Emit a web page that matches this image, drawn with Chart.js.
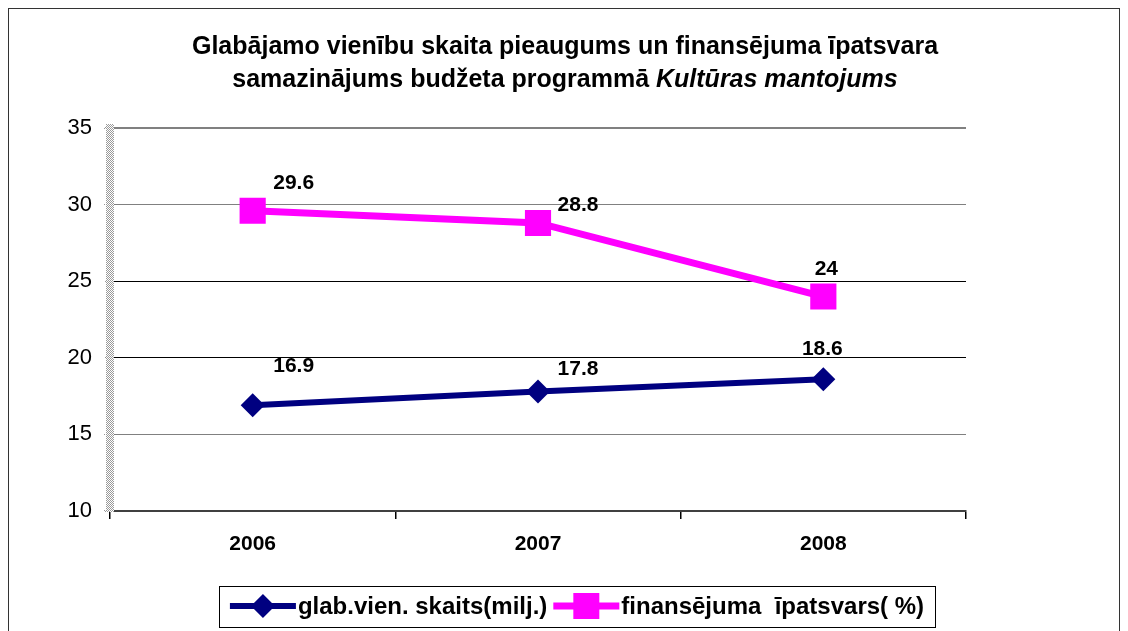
<!DOCTYPE html>
<html>
<head>
<meta charset="utf-8">
<script src="https://cdn.jsdelivr.net/npm/chart.js@4"></script>
<style>
  body { margin: 0; background: #fff; }
  canvas { display: block; }
</style>
</head>
<body>
<canvas id="chart" width="1128" height="631"></canvas>
<script>
const years = ["2006", "2007", "2008"];
const unitsCount = [16.9, 17.8, 18.6];
const fundingShare = [29.6, 28.8, 24];
const seriesNames = ["glab.vien. skaits(milj.)", "finansējuma  īpatsvars( %)"];
const titleLine1 = "Glabājamo vienību skaita pieaugums un finansējuma īpatsvara";
const titleLine2 = "samazinājums budžeta programmā ";
const titleItalic = "Kultūras mantojums";

const FONT = '"Liberation Sans", Arial, sans-serif';
const NAVY = "#000080";
const MAGENTA = "#ff00ff";

// dithered grey pattern for the left axis band
function makeHatch() {
  const c = document.createElement("canvas");
  c.width = 2; c.height = 2;
  const g = c.getContext("2d");
  g.fillStyle = "#fff"; g.fillRect(0, 0, 2, 2);
  g.fillStyle = "#999"; g.fillRect(0, 0, 1, 1); g.fillRect(1, 1, 1, 1);
  return g.createPattern(c, "repeat");
}
const hatch = makeHatch();

const framePlugin = {
  id: "frame",
  beforeDraw(chart) {
    const ctx = chart.ctx;
    ctx.save();
    ctx.strokeStyle = "#333";
    ctx.lineWidth = 1;
    ctx.strokeRect(8.5, 8.5, 1111, 700);

    ctx.fillStyle = "#000";
    ctx.textBaseline = "middle";
    ctx.textAlign = "center";
    ctx.font = "bold 25px " + FONT;
    ctx.fillText(titleLine1, 565, 47);

    const boldFont = "bold 25px " + FONT;
    const italicFont = "italic bold 25px " + FONT;
    ctx.font = boldFont;
    const w1 = ctx.measureText(titleLine2).width;
    ctx.font = italicFont;
    const w2 = ctx.measureText(titleItalic).width;
    let x = 565 - (w1 + w2) / 2;
    ctx.textAlign = "left";
    ctx.font = boldFont;
    ctx.fillText(titleLine2, x, 80);
    ctx.font = italicFont;
    ctx.fillText(titleItalic, x + w1, 80);
    ctx.restore();
  }
};

const pointLabels = {
  id: "pointLabels",
  afterDatasetsDraw(chart, args, opts) {
    const ctx = chart.ctx;
    ctx.save();
    ctx.font = "bold 21px " + FONT;
    ctx.fillStyle = "#000";
    ctx.textAlign = "center";
    ctx.textBaseline = "middle";
    chart.data.datasets.forEach((ds, di) => {
      const meta = chart.getDatasetMeta(di);
      meta.data.forEach((pt, i) => {
        const off = opts.offsets[di][i];
        ctx.fillText(String(ds.data[i]), pt.x + off[0], pt.y + off[1]);
      });
    });
    ctx.restore();
  }
};

const legendBox = {
  id: "legendBox",
  afterDraw(chart) {
    const ctx = chart.ctx;
    const boxL = 219, boxR = 935, boxT = 586, boxB = 627;
    const cy = 606;
    ctx.save();
    ctx.strokeStyle = "#000";
    ctx.lineWidth = 1;
    ctx.strokeRect(boxL + 0.5, boxT + 0.5, boxR - boxL, boxB - boxT);
    ctx.font = "bold 24px " + FONT;
    const lineLen = 66;
    const tw = seriesNames.map(s => ctx.measureText(s).width);
    const total = lineLen * 2 + 4 + tw[0] + tw[1] + 6;
    let x = (boxL + boxR) / 2 - total / 2;
    chart.data.datasets.forEach((ds, i) => {
      ctx.strokeStyle = ds.borderColor;
      ctx.lineWidth = ds.borderWidth;
      ctx.beginPath();
      ctx.moveTo(x, cy);
      ctx.lineTo(x + lineLen, cy);
      ctx.stroke();
      ctx.fillStyle = ds.backgroundColor;
      ctx.beginPath();
      if (ds.pointStyle === "rect") {
        ctx.rect(x + lineLen / 2 - 13, cy - 13, 26, 26);
      } else {
        const r = ds.pointRadius;
        ctx.moveTo(x + lineLen / 2, cy - r);
        ctx.lineTo(x + lineLen / 2 + r, cy);
        ctx.lineTo(x + lineLen / 2, cy + r);
        ctx.lineTo(x + lineLen / 2 - r, cy);
        ctx.closePath();
      }
      ctx.fill();
      ctx.fillStyle = "#000";
      ctx.textBaseline = "middle";
      ctx.textAlign = "left";
      ctx.fillText(seriesNames[i], x + lineLen + 2, cy + 1);
      x += lineLen + 2 + tw[i] + 6;
    });
    ctx.restore();
  }
};

new Chart(document.getElementById("chart"), {
  type: "line",
  data: {
    labels: years,
    datasets: [
      {
        label: seriesNames[0],
        data: unitsCount,
        borderColor: NAVY,
        backgroundColor: NAVY,
        borderWidth: 6,
        pointStyle: "rectRot",
        pointRadius: 12,
        pointBorderWidth: 0,
        tension: 0
      },
      {
        label: seriesNames[1],
        data: fundingShare,
        borderColor: MAGENTA,
        backgroundColor: MAGENTA,
        borderWidth: 7,
        pointStyle: "rect",
        pointRadius: 18.5,
        pointBorderWidth: 0,
        tension: 0
      }
    ]
  },
  options: {
    responsive: false,
    animation: false,
    layout: { padding: { top: 128, right: 162, bottom: 0, left: 0 } },
    plugins: {
      legend: { display: false },
      title: { display: false },
      tooltip: { enabled: false },
      pointLabels: {
        offsets: [
          [[41, -39], [40, -22], [-1, -30]],
          [[41, -28], [40, -18], [3, -27]]
        ]
      }
    },
    scales: {
      x: {
        offset: true,
        afterFit(scale) { scale.height = 120; },
        grid: {
          offset: true,
          color: ctx => ctx.index === 3 ? "#808080" : "rgba(0,0,0,0)",
          tickColor: "#000",
          tickLength: 8,
          lineWidth: 1.5
        },
        border: { color: "#404040", width: 2 },
        ticks: {
          color: "#000",
          font: { family: FONT, size: 21, weight: "bold" },
          padding: 13
        }
      },
      y: {
        min: 10,
        max: 35,
        afterFit(scale) { scale.width = 110; },
        grid: {
          color: ctx => (ctx.tick && (ctx.tick.value === 20 || ctx.tick.value === 25)) ? "#000" : "#808080",
          tickColor: hatch,
          tickLength: 6,
          lineWidth: ctx => (ctx.tick && (ctx.tick.value === 35 || ctx.tick.value === 10)) ? 2 : 1
        },
        border: { color: hatch, width: 8 },
        ticks: {
          stepSize: 5,
          color: "#000",
          font: { family: FONT, size: 22 },
          padding: 12
        }
      }
    }
  },
  plugins: [framePlugin, pointLabels, legendBox]
});
</script>
</body>
</html>
